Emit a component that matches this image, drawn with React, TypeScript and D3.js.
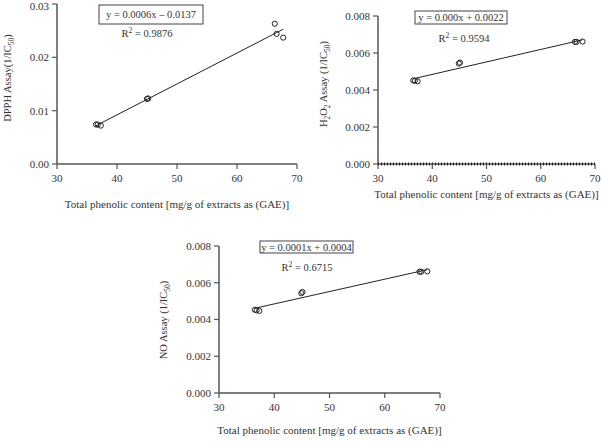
import React from "react";
import * as d3 from "d3";

const xTicks = [30, 40, 50, 60, 70];
const xTitle = "Total phenolic content [mg/g of extracts as (GAE)]";

const dpphX = [36.5, 36.8, 37.3, 45.0, 45.2, 66.3, 66.6, 67.7];
const dpphY = [0.0074, 0.0074, 0.0072, 0.0122, 0.0123, 0.0263, 0.0244, 0.0237];
const dpphTicks = [0, 0.01, 0.02, 0.03];

const h2o2X = [36.5, 36.8, 37.3, 44.9, 45.1, 66.3, 66.6, 67.7];
const h2o2Y = [0.00452, 0.0045, 0.00447, 0.00543, 0.00548, 0.0066, 0.0066, 0.00662];
const h2o2Ticks = [0, 0.002, 0.004, 0.006, 0.008];

const noX = [36.5, 36.8, 37.3, 44.9, 45.1, 66.3, 66.6, 67.7];
const noY = [0.00453, 0.0045, 0.00447, 0.00543, 0.0055, 0.0066, 0.0066, 0.00662];
const noTicks = [0, 0.002, 0.004, 0.006, 0.008];

const FONT = "'Liberation Serif', 'DejaVu Serif', serif";
const AXIS = "#555";

type Panel = {
  xs: number[];
  ys: number[];
  yTicks: number[];
  yMax: number;
  fmt: string;
  eq: string;
  r2: string;
  yLabel: React.ReactNode;
  left: number; right: number; top: number; bottom: number;
  box: [number, number, number, number];
  r2Pos: [number, number];
  yLabelPos: [number, number];
  xTitleY: number;
  zeroDots?: boolean;
};

function fit(xs: number[], ys: number[]) {
  const mx = d3.mean(xs)!, my = d3.mean(ys)!;
  let sxy = 0, sxx = 0;
  xs.forEach((x, i) => { sxy += (x - mx) * (ys[i] - my); sxx += (x - mx) ** 2; });
  const b = sxy / sxx;
  return { b, a: my - b * mx };
}

function Chart(p: Panel) {
  const x = d3.scaleLinear().domain([30, 70]).range([p.left, p.right]);
  const y = d3.scaleLinear().domain([0, p.yMax]).range([p.bottom, p.top]);
  const f = d3.format(p.fmt);
  const { a, b } = fit(p.xs, p.ys);
  const x0 = d3.min(p.xs)!, x1 = d3.max(p.xs)!;
  const line = d3.line<number>().x(v => x(v)).y(v => y(a + b * v));
  return (
    <g fontFamily={FONT} fill="#333">
      <line x1={p.left} x2={p.left} y1={p.top} y2={p.bottom} stroke={AXIS} strokeWidth={1.5} />
      <line x1={p.left} x2={p.right} y1={p.bottom} y2={p.bottom} stroke={AXIS} strokeWidth={1.5} />
      {p.zeroDots && (
        <line x1={p.left} x2={p.right} y1={y(0)} y2={y(0)} stroke="#222" strokeWidth={3} strokeDasharray="1,2" />
      )}
      {p.yTicks.map(t => (
        <g key={t}>
          <line x1={p.left - 5} x2={p.left} y1={y(t)} y2={y(t)} stroke={AXIS} strokeWidth={1.2} />
          <text x={p.left - 8} y={Math.max(y(t), 6)} dy="0.35em" textAnchor="end" fontSize={11}>{f(t)}</text>
        </g>
      ))}
      {xTicks.map(t => (
        <g key={t}>
          <line x1={x(t)} x2={x(t)} y1={p.bottom} y2={p.bottom + 5} stroke={AXIS} strokeWidth={1.2} />
          <text x={x(t)} y={p.bottom + 18} textAnchor="middle" fontSize={11}>{t}</text>
        </g>
      ))}
      <text x={(p.left + p.right) / 2} y={p.xTitleY} textAnchor="middle" fontSize={11}>{xTitle}</text>
      <text transform={`translate(${p.yLabelPos[0]},${p.yLabelPos[1]}) rotate(-90)`} textAnchor="middle" fontSize={10.5}>{p.yLabel}</text>
      <path d={line([x0, x1]) || ""} stroke="#222" strokeWidth={1} fill="none" />
      {p.xs.map((v, i) => (
        <circle key={i} cx={x(v)} cy={y(p.ys[i])} r={2.6} fill="none" stroke="#222" strokeWidth={1} />
      ))}
      <rect x={p.box[0]} y={p.box[1]} width={p.box[2]} height={p.box[3]} fill="white" stroke="#444" strokeWidth={1} />
      <text x={p.box[0] + p.box[2] / 2} y={p.box[1] + p.box[3] / 2} dy="0.35em" textAnchor="middle" fontSize={10.5}>{p.eq}</text>
      <text x={p.r2Pos[0]} y={p.r2Pos[1]} dy="0.35em" textAnchor="middle" fontSize={10.5}>
        R<tspan dy="-4" fontSize={7.5}>2</tspan><tspan dy="4"> = {p.r2}</tspan>
      </text>
    </g>
  );
}

export default function App() {
  return (
    <svg width={602} height={441} style={{ position: "absolute", left: 0, top: 0 }}>
      <rect width={602} height={441} fill="white" />
      <Chart
        xs={dpphX} ys={dpphY} yTicks={dpphTicks} yMax={0.03} fmt=".2f"
        eq="y = 0.0006x – 0.0137" r2="0.9876"
        yLabel={<>DPPH Assay(1/IC<tspan dy="3" fontSize={7.5}>50</tspan><tspan dy="-3">)</tspan></>}
        left={57} right={297} top={4} bottom={164}
        box={[99, 5, 104, 19]} r2Pos={[147, 33]} yLabelPos={[11, 78]} xTitleY={208}
      />
      <Chart
        xs={h2o2X} ys={h2o2Y} yTicks={h2o2Ticks} yMax={0.008} fmt=".3f"
        eq="y = 0.000x + 0.0022" r2="0.9594" zeroDots
        yLabel={<>H<tspan dy="3" fontSize={7.5}>2</tspan><tspan dy="-3">O</tspan><tspan dy="3" fontSize={7.5}>2</tspan><tspan dy="-3"> Assay (1/IC</tspan><tspan dy="3" fontSize={7.5}>50</tspan><tspan dy="-3">)</tspan></>}
        left={378} right={595} top={16} bottom={164}
        box={[415, 11, 92, 13]} r2Pos={[464, 38]} yLabelPos={[327, 84]} xTitleY={198}
      />
      <Chart
        xs={noX} ys={noY} yTicks={noTicks} yMax={0.008} fmt=".3f"
        eq="y = 0.0001x + 0.0004" r2="0.6715"
        yLabel={<>NO Assay (1/IC<tspan dy="3" fontSize={7.5}>50</tspan><tspan dy="-3">)</tspan></>}
        left={219} right={440} top={246} bottom={393}
        box={[260, 241, 93, 12]} r2Pos={[307, 267]} yLabelPos={[167, 320]} xTitleY={434}
      />
    </svg>
  );
}
